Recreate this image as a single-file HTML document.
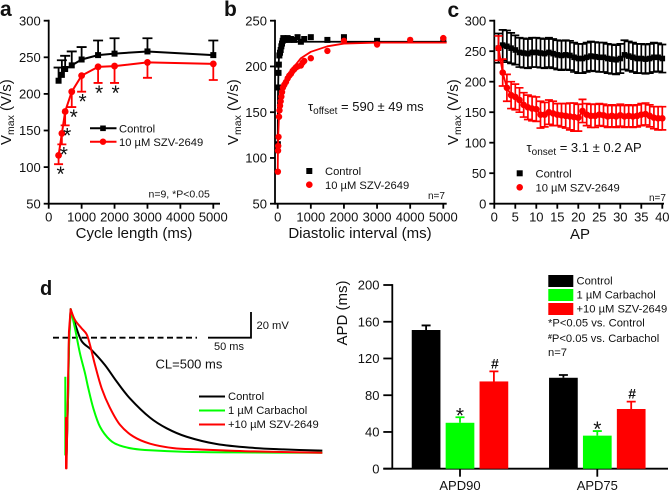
<!DOCTYPE html>
<html>
<head>
<meta charset="utf-8">
<style>
html,body{margin:0;padding:0;background:#fff;width:669px;height:492px;overflow:hidden}
svg{display:block;font-family:"Liberation Sans",sans-serif;fill:#111}
text{fill:#111}
</style>
</head>
<body>
<svg id="fig" width="669" height="492" viewBox="0 0 669 492" xmlns="http://www.w3.org/2000/svg">
  <text x="0" y="16" font-size="21" font-weight="bold">a</text>
  <text x="224" y="16" font-size="21" font-weight="bold">b</text>
  <text x="447.500" y="17" font-size="21" font-weight="bold">c</text>
  <text x="40" y="295" font-size="20" font-weight="bold">d</text>

  <text transform="translate(11,145) rotate(-90)" font-size="15">V<tspan font-size="10.5" dy="3">max</tspan><tspan dy="-3"> (V/s)</tspan></text>
  <text x="134" y="238" font-size="15" text-anchor="middle">Cycle length (ms)</text>
  <text x="148.500" y="197.500" font-size="10.500">n=9, *P&lt;0.05</text>
  <text x="119" y="132.500" font-size="11.200">Control</text>
  <text x="119" y="146" font-size="11.200">10 µM SZV-2649</text>

  <text transform="translate(238,145) rotate(-90)" font-size="15">V<tspan font-size="10.5" dy="3">max</tspan><tspan dy="-3"> (V/s)</tspan></text>
  <text x="360" y="238" font-size="15" text-anchor="middle">Diastolic interval (ms)</text>
  <text x="308" y="111" font-size="13"><tspan font-size="13">τ</tspan><tspan font-size="10" dy="3">offset</tspan><tspan dy="-3"> = 590 ± 49 ms</tspan></text>
  <text x="325" y="175" font-size="11.200">Control</text>
  <text x="325" y="189" font-size="11.200">10 µM SZV-2649</text>
  <text x="428" y="199" font-size="10">n=7</text>

  <text transform="translate(458,145) rotate(-90)" font-size="15">V<tspan font-size="10.5" dy="3">max</tspan><tspan dy="-3"> (V/s)</tspan></text>
  <text x="580" y="239" font-size="15" text-anchor="middle">AP</text>
  <text x="526.500" y="152" font-size="13"><tspan>τ</tspan><tspan font-size="10" dy="3">onset</tspan><tspan dy="-3"> = 3.1 ± 0.2 AP</tspan></text>
  <text x="535.500" y="177.500" font-size="11.200">Control</text>
  <text x="535.500" y="191.500" font-size="11.200">10 µM SZV-2649</text>
  <text x="649" y="201" font-size="10">n=7</text>

  <line x1="53" x2="197" y1="337.700" y2="337.700" stroke="#000" stroke-width="1.800" stroke-dasharray="6 3.500"/>
  <path d="M208 337.700H251V312" fill="none" stroke="#000" stroke-width="1.800"/>
  <text x="256.500" y="329" font-size="11.200">20 mV</text>
  <text x="214" y="350" font-size="11">50 ms</text>
  <text x="155.500" y="368.500" font-size="13">CL=500 ms</text>
  <line x1="199" x2="225" y1="396.500" y2="396.500" stroke="#000" stroke-width="1.900"/>
  <line x1="199" x2="225" y1="410.500" y2="410.500" stroke="#00ff00" stroke-width="1.900"/>
  <line x1="199" x2="225" y1="424.500" y2="424.500" stroke="#ff0000" stroke-width="1.900"/>
  <text x="228" y="400" font-size="11.200">Control</text>
  <text x="228" y="414" font-size="11.200">1 µM Carbachol</text>
  <text x="228" y="428" font-size="11.200">+10 µM SZV-2649</text>

  <text transform="translate(347,313) rotate(-90)" font-size="15" text-anchor="middle">APD (ms)</text>
  <rect x="548.300" y="275" width="25" height="12" fill="#000"/>
  <rect x="548.300" y="289" width="25" height="12" fill="#00ff00"/>
  <rect x="548.300" y="303" width="25" height="12" fill="#ff0000"/>
  <text x="576.500" y="284.500" font-size="11.200">Control</text>
  <text x="576.500" y="298.500" font-size="11.200">1 µM Carbachol</text>
  <text x="576.500" y="312.500" font-size="11.200">+10 µM SZV-2649</text>
  <text x="548" y="326.500" font-size="11.200">*P&lt;0.05 vs. Control</text>
  <text x="548" y="342" font-size="11.200"><tspan font-size="7" dy="-3" font-weight="bold">#</tspan><tspan dy="3">P&lt;0.05 vs. Carbachol</tspan></text>
  <text x="548" y="356" font-size="11.200">n=7</text>
</svg>
<script>
// Panel a: Vmax against cycle length
const aCycle = [300, 400, 500, 700, 1000, 1500, 2000, 3000, 5000];
const aControl = [218, 226, 234, 239, 247, 253, 255, 258, 253];
const aControlErr = [18, 20, 18, 19, 17, 20, 21, 18, 20];
const aDrug = [116, 146, 176, 203, 225, 237, 238, 243, 241];
const aDrugErr = [12, 15, 19, 21, 22, 22, 23, 21, 22];
const aYTicks = [50, 100, 150, 200, 250, 300];
const aXTicks = [0, 1000, 2000, 3000, 4000, 5000];

// Panel b: Vmax against diastolic interval
const bControlDI = [5, 15, 25, 35, 50, 70, 90, 110, 130, 150, 170, 200, 250, 300, 350, 400, 500, 600, 700, 800, 1000, 1500, 2000, 3000, 5000];
const bControl = [115, 177, 193, 202, 212, 215, 218, 222, 225, 228, 231, 229, 230, 231, 229, 230, 229, 232, 227, 230, 232, 229, 232, 228, 229];
const bDrugDI = [5, 10, 15, 25, 40, 55, 70, 90, 110, 130, 160, 200, 250, 300, 350, 400, 450, 500, 550, 600, 700, 750, 800, 1000, 1500, 2000, 3000, 4000, 5000];
const bDrug = [85, 108, 113, 123, 145, 152, 157, 162, 167, 172, 177, 180, 183, 187, 190, 192, 195, 197, 199, 200, 201, 204, 206, 209, 217, 228, 224, 229, 231];
const bControlFitDI = [0, 10, 25, 50, 100, 200, 300, 5100];
const bControlFit = [110, 170, 200, 218, 225, 227, 227, 227];
const bDrugFitDI = [0, 10, 20, 40, 70, 100, 150, 200, 300, 400, 500, 700, 1000, 1500, 2000, 3000, 5100];
const bDrugFit = [85, 115, 128, 146, 158, 165, 174, 180, 188, 195, 200, 209, 216, 222, 225, 226, 226];
const bYTicks = [50, 100, 150, 200, 250];
const bXTicks = [0, 1000, 2000, 3000, 4000, 5000];

// Panel c: Vmax against action potential number
const cControl = [255, 260, 258, 255, 252, 248, 247, 246, 248, 248, 247, 246, 248, 246, 244, 243, 244, 243, 240, 238, 238, 240, 242, 241, 240, 240, 238, 237, 236, 238, 244, 242, 240, 238, 238, 237, 238, 240, 240, 238];
const cControlErr = [24, 25, 26, 25, 24, 24, 24, 24, 24, 24, 24, 24, 24, 24, 24, 24, 24, 24, 24, 24, 24, 24, 24, 24, 24, 24, 24, 24, 24, 24, 24, 24, 24, 24, 24, 24, 24, 24, 23, 23];
const cDrug = [255, 215, 190, 178, 175, 170, 162, 158, 156, 155, 146, 146, 150, 148, 146, 145, 144, 143, 142, 141, 152, 146, 144, 144, 146, 145, 143, 144, 143, 145, 143, 144, 143, 144, 146, 147, 144, 141, 140, 140];
const cDrugErr = [20, 22, 22, 22, 21, 20, 20, 20, 20, 20, 22, 20, 20, 20, 18, 19, 20, 22, 23, 22, 19, 18, 19, 19, 18, 18, 18, 18, 18, 18, 18, 18, 18, 18, 18, 18, 18, 18, 19, 19];
const cYTicks = [0, 50, 100, 150, 200, 250, 300];
const cXTicks = [0, 5, 10, 15, 20, 25, 30, 35, 40];

// Panel d: action potential traces (time in ms, voltage in mV)
const dControlTime = [0, 0.8, 2.4, 3.5, 5.5, 10.6, 18.5, 30.3, 46, 60, 75.6, 99.3, 119, 142.6, 178, 217.5, 257, 303];
const dControlMv = [-100.5, -87.7, -46.7, -3.1, 22, 11, -2.6, -9.5, -21, -33.8, -46.7, -61.5, -69.7, -76.2, -81.8, -84.6, -85.9, -86.9];
const dCarbTime = [-0.8, -0.8, 0.5, 2.4, 3.5, 5.5, 10.6, 16.5, 22.5, 26.4, 32.3, 40.2, 52, 63.8, 79.6, 99.3, 138.7, 197.8, 303];
const dCarbMv = [-30, -90, -90, -47, -8, 22, 7.2, -12, -27.4, -39, -54.3, -68.5, -78.7, -83, -85.4, -86.6, -87.7, -88.2, -88.5];
const dDrugTime = [0, 0, 0.6, 1.4, 2.8, 3.5, 5.5, 10.6, 18.5, 24.4, 28.4, 34.3, 42.2, 52, 63.8, 79.6, 99.3, 126.9, 158.4, 217.5, 303];
const dDrugMv = [-61, -100.5, -100.5, -70, -21, 4.6, 22, 13.6, 7.2, 2.6, -5.6, -21, -39, -54, -67, -76, -81.5, -84.9, -86, -87.4, -88.5];

// Panel e: action potential duration bars
const eCategories = ['APD90', 'APD75'];
const eControl = [151, 99];
const eControlErr = [5, 3];
const eCarb = [50, 36];
const eCarbErr = [6, 5];
const eDrug = [95, 65];
const eDrugErr = [11, 8];
const eYTicks = [0, 40, 80, 120, 160, 200];

const svg = document.getElementById('fig');
const NS = 'http://www.w3.org/2000/svg';
const BLACK = '#000000';
const RED = '#ff0000';
const GREEN = '#00ff00';

function add(tag, attrs, name, text) {
  const el = document.createElementNS(NS, tag);
  
  
  for (const k in attrs) el.setAttribute(k, attrs[k]);
  if (text !== undefined) el.textContent = text;
  svg.appendChild(el);
  return el;
}
function linear(d0, d1, r0, r1) {
  return function (v) { return r0 + (v - d0) * (r1 - r0) / (d1 - d0); };
}
function axes(prefix, xs, ys, xTicks, yTicks, axisX, xEnd) {
  const yTop = ys(yTicks[yTicks.length - 1]);
  const yBot = ys(yTicks[0]);
  add('line', {x1: axisX, x2: axisX, y1: yTop - 0.9, y2: yBot + 0.9, stroke: '#000', 'stroke-width': 1.8}, prefix + '-y-axis');
  add('line', {x1: axisX, x2: xEnd, y1: yBot, y2: yBot, stroke: '#000', 'stroke-width': 1.8}, prefix + '-x-axis');
  yTicks.forEach(function (t) {
    add('line', {x1: axisX - 5, x2: axisX, y1: ys(t), y2: ys(t), stroke: '#000', 'stroke-width': 1.8}, prefix + '-y-tick-' + t);
    add('text', {x: axisX - 8, y: ys(t) + 4.7, 'font-size': 13, 'text-anchor': 'end'}, prefix + '-y-label-' + t, t);
  });
  xTicks.forEach(function (t) {
    add('line', {x1: xs(t), x2: xs(t), y1: yBot, y2: yBot + 5, stroke: '#000', 'stroke-width': 1.8}, prefix + '-x-tick-' + t);
    add('text', {x: xs(t), y: yBot + 18, 'font-size': 13, 'text-anchor': 'middle'}, prefix + '-x-label-' + t, t);
  });
}
function polyline(xArr, yArr, xs, ys, color, width, name) {
  const pts = xArr.map(function (x, i) { return xs(x).toFixed(2) + ',' + ys(yArr[i]).toFixed(2); }).join(' ');
  return add('polyline', {points: pts, fill: 'none', stroke: color, 'stroke-width': width, 'stroke-linejoin': 'round'}, name);
}
// Straight up to the highest value, then a smooth curve through the remaining samples.
function curve(xArr, yArr, xs, ys, color, width, name) {
  const px = xArr.map(xs);
  const py = yArr.map(ys);
  let peak = 0;
  py.forEach(function (v, i) { if (v < py[peak]) peak = i; });
  let d = 'M' + px[0].toFixed(2) + ' ' + py[0].toFixed(2);
  for (let i = 1; i <= peak; i++) d += 'L' + px[i].toFixed(2) + ' ' + py[i].toFixed(2);
  for (let i = peak; i < px.length - 1; i++) {
    const a = i > peak ? i - 1 : i;
    const b = Math.min(i + 2, px.length - 1);
    const c1x = px[i] + (px[i + 1] - px[a]) / 6;
    const c1y = py[i] + (py[i + 1] - py[a]) / 6;
    const c2x = px[i + 1] - (px[b] - px[i]) / 6;
    const c2y = py[i + 1] - (py[b] - py[i]) / 6;
    d += 'C' + c1x.toFixed(2) + ' ' + c1y.toFixed(2) + ' ' + c2x.toFixed(2) + ' ' + c2y.toFixed(2) + ' ' + px[i + 1].toFixed(2) + ' ' + py[i + 1].toFixed(2);
  }
  return add('path', {d: d, fill: 'none', stroke: color, 'stroke-width': width, 'stroke-linejoin': 'round'}, name);
}
function square(cx, cy, s, name) {
  return add('rect', {x: cx - s / 2, y: cy - s / 2, width: s, height: s, fill: BLACK}, name);
}
function circle(cx, cy, r, name) {
  return add('circle', {cx: cx, cy: cy, r: r, fill: RED}, name);
}
function errBar(x, y1, y2, cap, color, name) {
  add('path', {d: 'M' + x + ' ' + y1 + 'V' + y2 + 'M' + (x - cap / 2) + ' ' + y2 + 'H' + (x + cap / 2), fill: 'none', stroke: color, 'stroke-width': 1.8}, name);
}

/* ---------- panel a ---------- */
const ax = linear(0, 5000, 48.7, 213.3);
const ay = linear(50, 300, 203.7, 20.7);
axes('a', ax, ay, aXTicks, aYTicks, 48.7, 220);
aCycle.forEach(function (c, i) {
  errBar(ax(c), ay(aControl[i]), ay(aControl[i] + aControlErr[i]), 10, BLACK, 'a-control-error-' + c);
});
polyline(aCycle, aControl, ax, ay, BLACK, 2, 'a-control-line');
aCycle.forEach(function (c, i) {
  square(ax(c), ay(aControl[i]), 6, 'a-control-point-' + c);
});
aCycle.forEach(function (c, i) {
  errBar(ax(c), ay(aDrug[i]), ay(aDrug[i] - aDrugErr[i]), 9, RED, 'a-drug-error-' + c);
});
polyline(aCycle, aDrug, ax, ay, RED, 2, 'a-drug-line');
aCycle.forEach(function (c, i) {
  circle(ax(c), ay(aDrug[i]), 3.4, 'a-drug-point-' + c);
  if (c <= 2000) {
    add('text', {x: ax(c) + (c <= 700 ? 2 : 1), y: ay(aDrug[i] - aDrugErr[i]) + 17, 'font-size': 21, 'text-anchor': 'middle'}, 'a-significance-' + c, '*');
  }
});
add('line', {x1: 90, x2: 116.5, y1: 128.3, y2: 128.3, stroke: BLACK, 'stroke-width': 2}, 'a-legend-control-line');
square(103, 128.3, 5.6, 'a-legend-control-marker');
add('line', {x1: 90, x2: 116.5, y1: 141.7, y2: 141.7, stroke: RED, 'stroke-width': 2}, 'a-legend-drug-line');
circle(103, 141.7, 3.2, 'a-legend-drug-marker');

/* ---------- panel b ---------- */
const bx = linear(0, 5000, 277.7, 443.3);
const by = linear(50, 250, 203.7, 20.7);
axes('b', bx, by, bXTicks, bYTicks, 275, 446.7);
polyline(bControlFitDI, bControlFit, bx, by, BLACK, 1.8, 'b-control-fit');
bControlDI.forEach(function (d, i) {
  square(bx(d), by(bControl[i]), 6, 'b-control-point-' + d);
});
curve(bDrugFitDI, bDrugFit, bx, by, RED, 1.8, 'b-drug-fit');
bDrugDI.forEach(function (d, i) {
  circle(bx(d), by(bDrug[i]), 3.2, 'b-drug-point-' + d);
});
square(309.3, 171, 6, 'b-legend-control-marker');
circle(309.3, 184.7, 3.3, 'b-legend-drug-marker');

/* ---------- panel c ---------- */
const cx = linear(0, 40, 494.3, 662.3);
const cy = linear(0, 300, 203.7, 20.7);
axes('c', cx, cy, cXTicks, cYTicks, 494.3, 664);
const apNumbers = cControl.map(function (_, i) { return i + 1; });
apNumbers.forEach(function (ap, i) {
  const up = cy(cControl[i] + cControlErr[i]);
  const down = cy(cControl[i] - cControlErr[i]);
  add('path', {d: 'M' + cx(ap) + ' ' + up + 'V' + down + 'M' + (cx(ap) - 4) + ' ' + up + 'h8M' + (cx(ap) - 4) + ' ' + down + 'h8', fill: 'none', stroke: BLACK, 'stroke-width': 1.7}, 'c-control-error-' + ap);
});
polyline(apNumbers, cControl, cx, cy, BLACK, 1.8, 'c-control-line');
apNumbers.forEach(function (ap, i) {
  square(cx(ap), cy(cControl[i]), 5.6, 'c-control-point-' + ap);
});
apNumbers.forEach(function (ap, i) {
  const up = cy(cDrug[i] + cDrugErr[i]);
  const down = cy(cDrug[i] - cDrugErr[i]);
  add('path', {d: 'M' + cx(ap) + ' ' + up + 'V' + down + 'M' + (cx(ap) - 4) + ' ' + up + 'h8M' + (cx(ap) - 4) + ' ' + down + 'h8', fill: 'none', stroke: RED, 'stroke-width': 1.7}, 'c-drug-error-' + ap);
});
polyline(apNumbers, cDrug, cx, cy, RED, 1.8, 'c-drug-line');
apNumbers.forEach(function (ap, i) {
  circle(cx(ap), cy(cDrug[i]), 3.3, 'c-drug-point-' + ap);
});
square(519.7, 173.3, 6, 'c-legend-control-marker');
circle(519.7, 187.3, 3.3, 'c-legend-drug-marker');

/* ---------- panel d ---------- */
const dx = linear(0, 50, 66, 108.3);
const dy = linear(0, 20, 337.7, 311.7);
curve(dControlTime, dControlMv, dx, dy, BLACK, 2, 'd-control-trace');
curve(dCarbTime, dCarbMv, dx, dy, GREEN, 2, 'd-carbachol-trace');
curve(dDrugTime, dDrugMv, dx, dy, RED, 2, 'd-drug-trace');

/* ---------- panel e ---------- */
const ey = linear(0, 200, 468.7, 285);
const eGroupX = linear(0, 1, 460, 597.3);
const eOffset = linear(0, 2, -33.9, 33.9);
const eBarWidth = 28.7;
add('line', {x1: 392.3, x2: 392.3, y1: ey(200) - 0.9, y2: ey(0), stroke: '#000', 'stroke-width': 1.8}, 'e-y-axis');
add('line', {x1: 383.3, x2: 668, y1: ey(0), y2: ey(0), stroke: '#000', 'stroke-width': 1.8}, 'e-x-axis');
eYTicks.forEach(function (t) {
  add('line', {x1: 383.3, x2: 392.3, y1: ey(t), y2: ey(t), stroke: '#000', 'stroke-width': 1.8}, 'e-y-tick-' + t);
  add('text', {x: 379.5, y: ey(t) + 4.7, 'font-size': 13, 'text-anchor': 'end'}, 'e-y-label-' + t, t);
});
eCategories.forEach(function (cat, g) {
  const gx = eGroupX(g);
  add('line', {x1: gx, x2: gx, y1: ey(0), y2: ey(0) + 8, stroke: '#000', 'stroke-width': 1.8}, 'e-x-tick-' + cat);
  add('text', {x: gx, y: 490, 'font-size': 13, 'text-anchor': 'middle'}, 'e-x-label-' + cat, cat);
  const series = [
    {v: eControl[g], e: eControlErr[g], c: BLACK, n: 'control', mark: ''},
    {v: eCarb[g], e: eCarbErr[g], c: GREEN, n: 'carbachol', mark: '*'},
    {v: eDrug[g], e: eDrugErr[g], c: RED, n: 'drug', mark: '#'}
  ];
  series.forEach(function (s, k) {
    const x = gx + eOffset(k);
    errBar(x, ey(s.v), ey(s.v + s.e), 9, s.c, 'e-error-' + cat + '-' + s.n);
    add('rect', {x: x - eBarWidth / 2, y: ey(s.v), width: eBarWidth, height: ey(0) - ey(s.v), fill: s.c}, 'e-bar-' + cat + '-' + s.n);
    if (s.mark === '*') {
      add('text', {x: x, y: ey(s.v + s.e) + 5, 'font-size': 21, 'text-anchor': 'middle'}, 'e-significance-' + cat, '*');
    }
    if (s.mark === '#') {
      add('text', {x: x + 1, y: ey(s.v + s.e) - 3, 'font-size': 14, 'font-weight': 'bold', 'text-anchor': 'middle'}, 'e-significance-' + cat, '#');
    }
  });
});
</script>
</body>
</html>
